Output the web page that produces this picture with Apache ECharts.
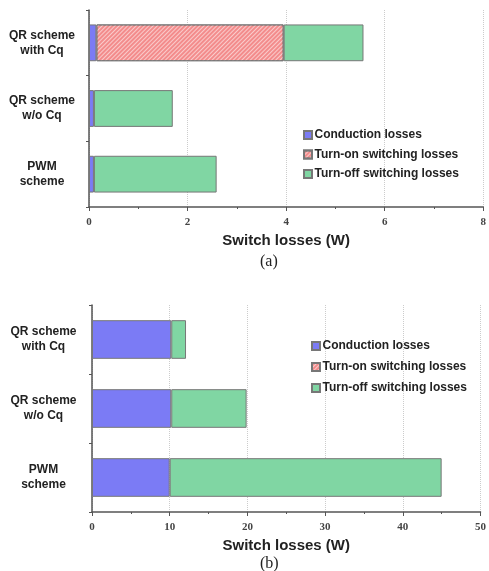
<!DOCTYPE html>
<html>
<head>
<meta charset="utf-8">
<script src="https://cdn.jsdelivr.net/npm/echarts@6/dist/echarts.min.js"></script>
<style>html,body{margin:0;padding:0;background:#fff;}#c{width:489px;height:571px;}</style>
</head>
<body>
<div id="c"></div>
<script>
// categories (top to bottom)
var categories = ['QR scheme\nwith Cq', 'QR scheme\nw/o Cq', 'PWM\nscheme'];
var seriesNames = ['Conduction losses', 'Turn-on switching losses', 'Turn-off switching losses'];
// (a)
var condA = [0.15, 0.10, 0.10];
var turnOnA = [3.80, null, null];
var turnOffA = [1.62, 1.60, 2.49];
var ticksA = [0, 2, 4, 6, 8];
// (b)
var condB = [10.2, 10.2, 10.0];
var turnOnB = [null, null, null];
var turnOffB = [1.9, 9.7, 35.0];
var ticksB = [0, 10, 20, 30, 40, 50];

var colors = ['#7b7bf5', '#f38c8c', '#80d6a3'];
var border = {borderColor: '#777', borderWidth: 1};
var decalRed = {symbol: 'rect', color: 'rgba(255,255,255,0.55)', dashArrayX: [1, 0], dashArrayY: [1, 2], rotation: -Math.PI / 4};

function xAxisFor(gi, ticks) {
  return {
    type: 'value', gridIndex: gi,
    min: ticks[0], max: ticks[ticks.length - 1], interval: ticks[1] - ticks[0],
    name: 'Switch losses (W)', nameLocation: 'middle', nameGap: 26,
    nameTextStyle: {fontFamily: 'Liberation Sans', fontWeight: 'bold', fontSize: 15, color: '#222'},
    axisLine: {show: true, lineStyle: {color: '#555', width: 1.5}},
    axisTick: {show: true, length: 4, lineStyle: {color: '#555'}},
    minorTick: {show: true, splitNumber: 2, length: 2, lineStyle: {color: '#555'}},
    axisLabel: {fontFamily: 'Liberation Serif', fontWeight: 'bold', fontSize: 11, color: '#444', margin: 10},
    splitLine: {show: true, lineStyle: {color: '#ccc', type: 'dotted', width: 1}}
  };
}
function yAxisFor(gi, margin) {
  return {
    type: 'category', gridIndex: gi, data: categories, inverse: true,
    axisLine: {show: true, lineStyle: {color: '#555', width: 1.5}},
    axisTick: {show: true, length: 3, lineStyle: {color: '#555'}},
    axisLabel: {fontFamily: 'Liberation Sans', fontWeight: 'bold', fontSize: 12, color: '#222',
      align: 'center', margin: margin, lineHeight: 15},
    splitLine: {show: false}
  };
}
function seriesFor(gi, cond, on, off) {
  var datas = [cond, on, off];
  return datas.map(function (d, i) {
    var st = Object.assign({color: colors[i]}, border);
    if (i === 1) st.decal = decalRed;
    return {
      type: 'bar', name: seriesNames[i], stack: 's' + gi,
      xAxisIndex: gi, yAxisIndex: gi, data: d, barWidth: '56%',
      itemStyle: st, emphasis: {disabled: true}
    };
  });
}
function legendFor(left, top, gap) {
  return {
    orient: 'vertical', left: left, top: top, itemWidth: 8, itemHeight: 8, itemGap: gap,
    icon: 'rect', data: seriesNames,
    textStyle: {fontFamily: 'Liberation Sans', fontWeight: 'bold', fontSize: 12, color: '#222', padding: [0, 0, 0, -2.5]},
    selectedMode: false
  };
}

var chart = echarts.init(document.getElementById('c'), null, {renderer: 'canvas'});
chart.setOption({
  animation: false,
  backgroundColor: '#fff',
  grid: [
    {left: 89, top: 10, right: 2, height: 197},
    {left: 92, top: 305, right: 5, height: 207}
  ],
  xAxis: [xAxisFor(0, ticksA), xAxisFor(1, ticksB)],
  yAxis: [yAxisFor(0, 47), yAxisFor(1, 48.5)],
  legend: [legendFor(298, 124, 7.5), legendFor(306, 335, 9)],
  series: seriesFor(0, condA, turnOnA, turnOffA).concat(seriesFor(1, condB, turnOnB, turnOffB)),
  graphic: [
    {type: 'text', left: 260, top: 254, style: {text: '(a)', font: '16px "Liberation Serif"', fill: '#222'}},
    {type: 'text', left: 260, top: 556, style: {text: '(b)', font: '16px "Liberation Serif"', fill: '#222'}}
  ]
});
</script>
</body>
</html>
